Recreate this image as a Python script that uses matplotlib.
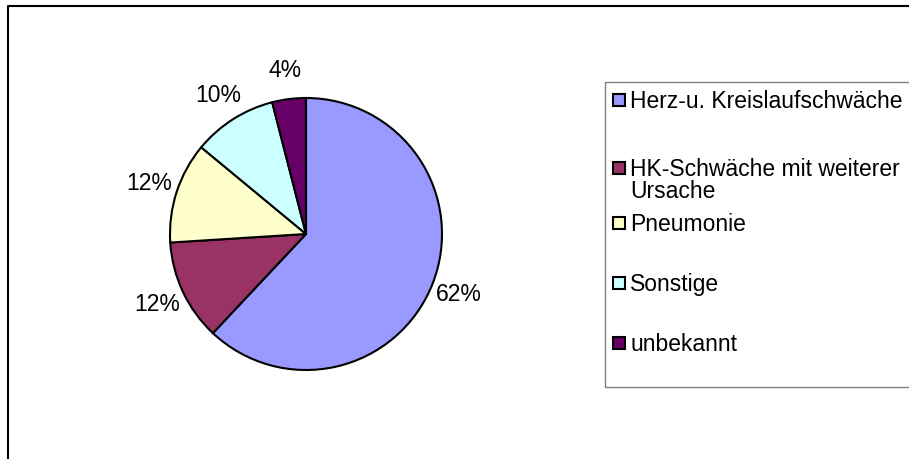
import matplotlib
matplotlib.use("Agg")
import matplotlib.pyplot as plt
from matplotlib.patches import Rectangle
from matplotlib.lines import Line2D

# Daten
categories = ["Herz-u. Kreislaufschwäche",
              "HK-Schwäche mit weiterer\nUrsache",
              "Pneumonie",
              "Sonstige",
              "unbekannt"]
values = [62, 12, 12, 10, 4]
colors = ["#9999FF", "#993366", "#FFFFCC", "#CCFFFF", "#660066"]

W, H = 909, 459
plt.rcParams['font.family'] = ['Liberation Sans', 'DejaVu Sans']
fs = 16.5

fig = plt.figure(figsize=(W / 100, H / 100), dpi=100)
fig.patch.set_facecolor("white")

# Kreisdiagramm (Mitte und Radius in Pixel)
cx, cy, r = 306, 234, 136
ax = fig.add_axes([(cx - r) / W, (H - cy - r) / H, 2 * r / W, 2 * r / H])
wedges, texts, autotexts = ax.pie(values, colors=colors, startangle=90, counterclock=False,
                                  radius=1, autopct='%.0f%%', pctdistance=1.21,
                                  wedgeprops=dict(edgecolor="black", linewidth=1.5),
                                  textprops=dict(fontsize=fs, color="black"))
for t in autotexts:
    t.set_clip_on(False)
ax.set_xlim(-1, 1)
ax.set_ylim(-1, 1)
ax.set_aspect("equal")
ax.axis("off")

# Rahmen links und oben
fig.add_artist(Line2D([8 / W, 8 / W, 1], [0, 1 - 6 / H, 1 - 6 / H],
                      transform=fig.transFigure, color="black", linewidth=1.5))

# Legende von Hand
lx0, ly0, ly1 = 605, 82, 387
fig.add_artist(Rectangle((lx0 / W, 1 - ly1 / H), (W + 5 - lx0) / W, (ly1 - ly0) / H,
                         transform=fig.transFigure, facecolor="white",
                         edgecolor="#808080", linewidth=1.0, clip_on=False))
entry_y = [100, 168, 223, 283, 343]
sq = 12
line_h = 22
cap = 0.716 * fs * 100 / 72
for lab, col, yy in zip(categories, colors, entry_y):
    fig.add_artist(Rectangle((613 / W, 1 - (yy + sq / 2) / H), sq / W, sq / H,
                             transform=fig.transFigure, facecolor=col,
                             edgecolor="black", linewidth=1.5))
    for i, zeile in enumerate(lab.split("\n")):
        fig.text(630 / W, 1 - (yy + cap / 2 + i * line_h) / H, zeile, fontsize=fs,
                 va="baseline", ha="left")

fig.savefig("out.png", dpi=100)
